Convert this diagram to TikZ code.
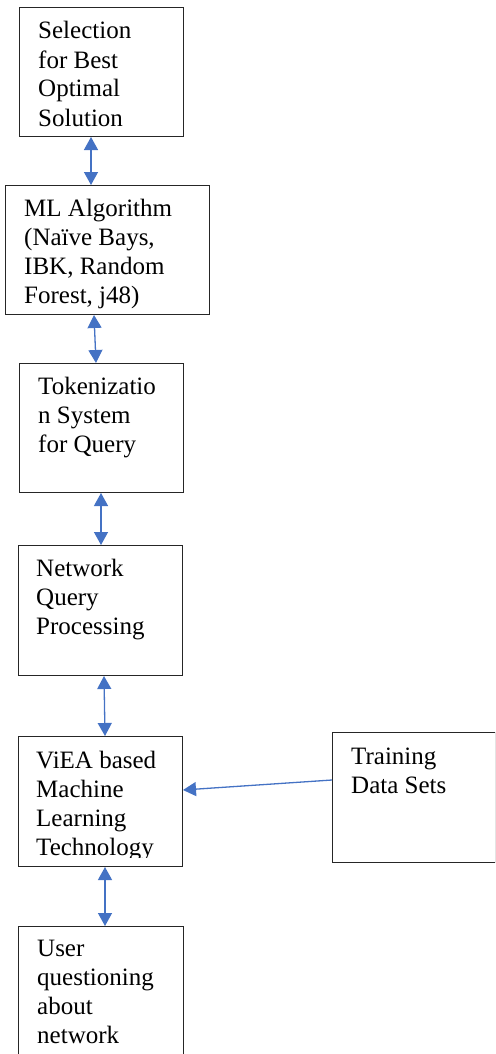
\documentclass[tikz,border=0pt]{standalone}
\usepackage{fontspec}
\setmainfont{Liberation Serif}
\usetikzlibrary{arrows.meta,calc}
\definecolor{arrblue}{RGB}{68,114,196}
\tikzset{
  box/.style={draw=black!85, line width=1pt, rectangle, inner sep=0pt, anchor=north west},
  txt/.style={anchor=base west, align=left, inner sep=0pt,
    font=\fontsize{25pt}{29pt}\selectfont},
  arr/.style={draw=arrblue, line width=1.3pt, -{Triangle[length=13pt,width=14pt]}},
  darr/.style={draw=arrblue, line width=1.3pt, {Triangle[length=13pt,width=14pt]}-{Triangle[length=13pt,width=14pt]}}
}
\begin{document}
\begin{tikzpicture}[x=1pt,y=-1pt]
\useasboundingbox (0,0) rectangle (495,1054);
\clip (0,0) rectangle (495,1054);
% boxes
\node[box, minimum width=164pt, minimum height=129pt] (b1) at (19,7) {};
\node[box, minimum width=204pt, minimum height=129pt] (b2) at (5,185) {};
\node[box, minimum width=164pt, minimum height=129pt] (b3) at (19,363) {};
\node[box, minimum width=164pt, minimum height=130pt] (b4) at (18,545) {};
\node[box, minimum width=164pt, minimum height=130pt] (b5) at (18,736) {};
\node[box, minimum width=163pt, minimum height=130pt] (b7) at (332,732) {};
\node[box, minimum width=165pt, minimum height=150pt] (b6) at (18,926) {};
% texts (anchored at the baseline of the last line)
\node[txt] (t1) at (38,126) {Selection\\for Best\\Optimal\\Solution};
\node[txt] (t2) at (24,303) {ML Algorithm\\(Naïve Bays,\\IBK, Random\\Forest, j48)};
\node[txt] (t3) at (38,452) {Tokenizatio\\n System\\for Query};
\node[txt] (t4) at (36,634) {Network\\Query\\Processing};
\begin{scope}
\clip (18,736) rectangle (182,857);
\node[txt] (t5) at (36,855) {ViEA based\\Machine\\Learning\\Technology};
\end{scope}
\node[txt] (t7) at (351,793) {Training\\Data Sets};
\node[txt] (t6) at (37,1043) {User\\questioning\\about\\network};
% connectors
\draw[darr] ([xshift=72pt]b1.south west) -- ([xshift=86pt]b2.north west);
\draw[darr] ([xshift=89pt]b2.south west) -- ([xshift=77pt]b3.north west);
\draw[darr] ([xshift=82pt]b3.south west) -- ([xshift=83pt]b4.north west);
\draw[darr] ([xshift=86pt]b4.south west) -- ([xshift=87pt]b5.north west);
\draw[darr] ([xshift=87pt]b5.south west) -- ([xshift=87pt]b6.north west);
\draw[arr] ([yshift=-48pt]b7.north west) -- ([yshift=-54pt]b5.north east);
\end{tikzpicture}
\end{document}
